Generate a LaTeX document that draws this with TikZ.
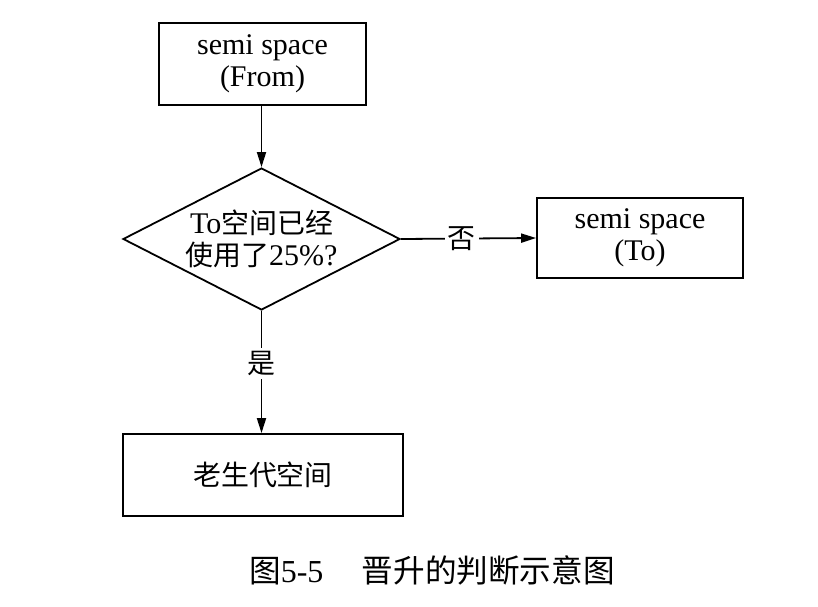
\documentclass[tikz,border=0pt]{standalone}
\usepackage{fontspec}
\setmainfont{Liberation Serif}
\newfontfamily\cjk[Scale=0.93]{Noto Sans CJK SC}
\usetikzlibrary{shapes.geometric,arrows.meta}
\begin{document}
\begin{tikzpicture}[x=1pt,y=-1pt,
  every node/.style={font=\fontsize{30}{32}\selectfont, align=center},
  box/.style={draw, line width=1.8pt, inner sep=0pt, minimum width=#1, minimum height=82pt},
  decision/.style={draw, line width=1.8pt, diamond, inner sep=0pt, shape aspect=1.95,
    minimum width=277pt, minimum height=142pt},
  flow/.style={line width=1.8pt, -{Triangle[length=15pt,width=9pt]}},
  lbl/.style={fill=white, inner sep=3pt}]
  \useasboundingbox (0,0) rectangle (818,606);

  \node[box=207pt] (from) at (262.5,64) {semi space\\(From)};
  \node[decision] (check) at (261.5,239) {To{\cjk 空间已经}\\{\cjk 使用了}25\%?};
  \node[box=206pt, minimum height=80pt] (to) at (640,238) {semi space\\(To)};
  \node[box=280pt] (old) at (263,475) {\cjk 老生代空间};

  \draw[flow] (from.south -| check.north) -- (check.north);
  \draw[flow] (check.east) -- node[lbl, pos=0.45] (no) {\cjk 否} (to.west);
  \draw[flow] (check.south) -- node[lbl, pos=0.43] (yes) {\cjk 是} (old.north -| check.south);

  \node[font=\fontsize{32}{36}\selectfont] (cap) at (432,570) {{\cjk\fontsize{34}{36}\selectfont 图}5-5\hspace{1.2em}{\cjk\fontsize{34}{36}\selectfont 晋升的判断示意图}};
\end{tikzpicture}
\end{document}
